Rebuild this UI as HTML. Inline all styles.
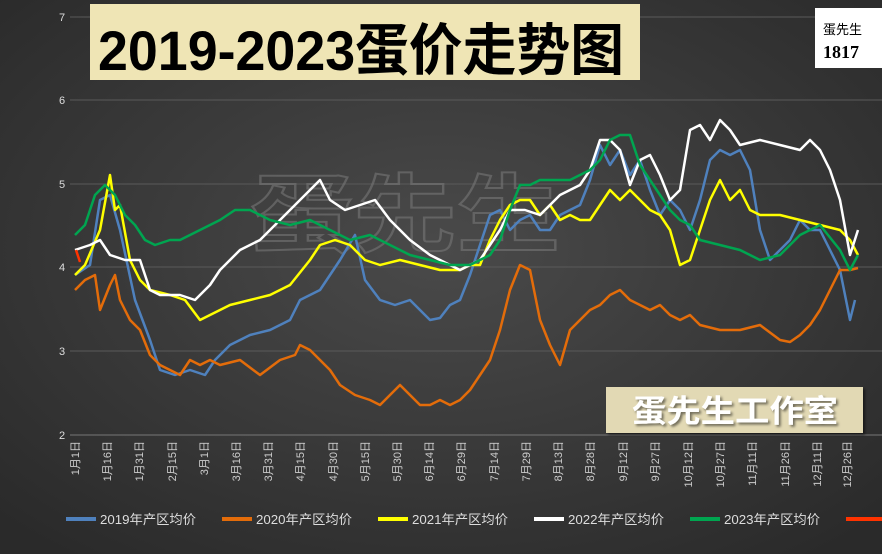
<!DOCTYPE html>
<html><head><meta charset="utf-8"><style>
html,body{margin:0;padding:0;}
body{width:882px;height:554px;overflow:hidden;background:#3b3b3b;font-family:"Liberation Sans","Noto Sans CJK SC",sans-serif;}
</style></head><body>
<svg width="882" height="554" viewBox="0 0 882 554" xmlns="http://www.w3.org/2000/svg" style="display:block">
<defs>
<radialGradient id="bg" cx="50%" cy="45%" r="70%">
<stop offset="0" stop-color="#4a4a4a"/><stop offset="1" stop-color="#2a2a2a"/>
</radialGradient>
<filter id="sh"><feDropShadow dx="2" dy="2" stdDeviation="1.2" flood-color="#000" flood-opacity="0.5"/></filter>
</defs>
<rect width="882" height="554" fill="url(#bg)"/>
<g stroke="#5a5a5a" stroke-width="1">
<line x1="70" y1="17" x2="882" y2="17"/><line x1="70" y1="100" x2="882" y2="100"/>
<line x1="70" y1="184" x2="882" y2="184"/><line x1="70" y1="267" x2="882" y2="267"/>
<line x1="70" y1="351" x2="882" y2="351"/><line x1="70" y1="435" x2="882" y2="435" stroke="#777"/>
</g>
<g fill="#ddd" font-size="11">
<text x="59" y="21">7</text><text x="59" y="104">6</text><text x="59" y="188">5</text>
<text x="59" y="271">4</text><text x="59" y="355">3</text><text x="59" y="439">2</text>
</g>
<text x="250" y="245" font-size="85" font-weight="bold" fill="none" stroke="#777" stroke-width="2" opacity="0.6" textLength="310" lengthAdjust="spacingAndGlyphs" font-family="Noto Sans CJK SC,sans-serif">蛋先生</text>
<rect x="90" y="4" width="550" height="76" fill="#efe5b5"/>
<text x="98" y="70" font-size="56" font-weight="bold" fill="#000" textLength="526" lengthAdjust="spacingAndGlyphs" font-family="Liberation Sans Narrow,Liberation Sans,Noto Sans CJK SC,sans-serif">2019-2023蛋价走势图</text>
<rect x="815" y="8" width="70" height="60" fill="#fff"/>
<text x="823" y="34" font-size="13" fill="#000" font-family="Noto Sans CJK SC,sans-serif">蛋先生</text>
<text x="823" y="58" font-size="18" font-weight="bold" fill="#000" font-family="Liberation Serif,serif">1817</text>
<g fill="none" stroke-width="2.5" stroke-linejoin="round">
<polyline stroke="#4f81bd" points="75,275 90,265 100,200 110,195 120,230 135,300 150,340 160,370 175,375 190,370 205,375 215,360 230,345 250,335 270,330 290,320 300,300 320,290 340,260 355,235 365,280 380,300 395,305 410,300 420,310 430,320 440,318 450,305 460,300 470,275 480,245 490,215 500,210 510,230 520,220 530,215 540,230 550,230 560,215 570,210 580,205 590,180 600,145 610,165 620,150 630,175 640,160 650,190 660,215 670,200 680,210 690,230 700,200 710,160 720,150 730,155 740,150 750,170 760,230 770,260 780,250 790,240 800,220 810,230 820,230 830,250 840,270 850,320 855,300"/>
<polyline stroke="#e36c0a" points="75,290 85,280 95,275 100,310 110,285 115,275 120,300 130,320 140,330 150,355 160,365 170,370 180,375 190,360 200,365 210,360 220,365 240,360 260,375 280,360 295,355 300,345 310,350 320,360 330,370 340,385 355,395 370,400 380,405 390,395 400,385 410,395 420,405 430,405 440,400 450,405 460,400 470,390 480,375 490,360 500,330 510,290 520,265 530,270 540,320 550,345 560,365 570,330 580,320 590,310 600,305 610,295 620,290 630,300 640,305 650,310 660,305 670,315 680,320 690,315 700,325 720,330 740,330 760,325 780,340 790,342 800,335 810,325 820,310 830,290 840,270 850,270 858,268"/>
<polyline stroke="#ffff00" points="75,275 85,265 100,230 110,175 115,210 120,205 130,260 140,280 150,290 170,295 185,300 200,320 210,315 230,305 250,300 270,295 290,285 310,260 320,245 335,240 350,245 365,260 380,265 400,260 420,265 440,270 460,270 470,265 480,265 490,240 500,220 510,205 520,200 530,200 540,215 550,205 560,220 570,215 580,220 590,220 600,205 610,190 620,200 630,190 640,200 650,210 660,215 670,230 680,265 690,260 700,230 710,200 720,180 730,200 740,190 750,210 760,215 780,215 800,220 820,225 840,230 850,240 858,255"/>
<polyline stroke="#ffffff" points="75,250 90,245 100,240 110,255 125,260 140,260 150,290 160,295 180,295 195,300 210,285 220,270 240,250 260,240 280,220 300,200 310,190 320,180 330,200 345,210 360,205 375,200 390,220 410,240 430,255 450,265 460,270 480,260 500,230 510,210 525,210 540,215 560,195 580,185 590,170 600,140 610,140 620,150 630,185 640,160 650,155 660,175 670,200 680,190 690,130 700,125 710,140 720,120 730,130 740,145 760,140 780,145 800,150 810,140 820,150 830,170 840,200 850,255 858,230"/>
<polyline stroke="#00a550" points="75,235 85,225 95,195 105,185 115,195 125,215 135,225 145,240 155,245 170,240 180,240 200,230 220,220 235,210 250,210 270,220 290,225 310,220 330,230 350,240 370,235 390,245 410,255 430,260 450,265 470,265 490,255 500,240 510,210 520,185 530,185 540,180 550,180 570,180 590,170 600,160 610,140 620,135 630,135 640,165 650,180 660,195 670,210 680,220 690,225 700,240 720,245 740,250 760,260 780,255 800,235 820,225 840,250 850,270 858,255"/>
<polyline stroke="#ff3300" points="76,250 78,256 80,262"/>
</g>
<rect x="606" y="387" width="257" height="46" fill="#e2d9b4" filter="url(#sh)"/>
<text x="632" y="422" font-size="31" font-weight="bold" fill="#fff" filter="url(#sh)" textLength="206" lengthAdjust="spacingAndGlyphs" font-family="Noto Sans CJK SC,sans-serif">蛋先生工作室</text>
<g fill="#ccc" font-size="11" text-anchor="end">
<text transform="translate(79,441) rotate(-90)">1月1日</text>
<text transform="translate(111,441) rotate(-90)">1月16日</text>
<text transform="translate(143,441) rotate(-90)">1月31日</text>
<text transform="translate(176,441) rotate(-90)">2月15日</text>
<text transform="translate(208,441) rotate(-90)">3月1日</text>
<text transform="translate(240,441) rotate(-90)">3月16日</text>
<text transform="translate(272,441) rotate(-90)">3月31日</text>
<text transform="translate(304,441) rotate(-90)">4月15日</text>
<text transform="translate(337,441) rotate(-90)">4月30日</text>
<text transform="translate(369,441) rotate(-90)">5月15日</text>
<text transform="translate(401,441) rotate(-90)">5月30日</text>
<text transform="translate(433,441) rotate(-90)">6月14日</text>
<text transform="translate(465,441) rotate(-90)">6月29日</text>
<text transform="translate(498,441) rotate(-90)">7月14日</text>
<text transform="translate(530,441) rotate(-90)">7月29日</text>
<text transform="translate(562,441) rotate(-90)">8月13日</text>
<text transform="translate(594,441) rotate(-90)">8月28日</text>
<text transform="translate(627,441) rotate(-90)">9月12日</text>
<text transform="translate(659,441) rotate(-90)">9月27日</text>
<text transform="translate(692,441) rotate(-90)">10月12日</text>
<text transform="translate(724,441) rotate(-90)">10月27日</text>
<text transform="translate(756,441) rotate(-90)">11月11日</text>
<text transform="translate(789,441) rotate(-90)">11月26日</text>
<text transform="translate(821,441) rotate(-90)">12月11日</text>
<text transform="translate(851,441) rotate(-90)">12月26日</text>
</g>
<g stroke-width="4">
<line x1="66" y1="519" x2="96" y2="519" stroke="#4f81bd"/>
<line x1="222" y1="519" x2="252" y2="519" stroke="#e36c0a"/>
<line x1="378" y1="519" x2="408" y2="519" stroke="#ffff00"/>
<line x1="534" y1="519" x2="564" y2="519" stroke="#ffffff"/>
<line x1="690" y1="519" x2="720" y2="519" stroke="#00a550"/>
<line x1="846" y1="519" x2="882" y2="519" stroke="#ff3300"/>
</g>
<g fill="#ddd" font-size="13">
<text x="100" y="524" textLength="96" lengthAdjust="spacingAndGlyphs">2019年产区均价</text>
<text x="256" y="524" textLength="96" lengthAdjust="spacingAndGlyphs">2020年产区均价</text>
<text x="412" y="524" textLength="96" lengthAdjust="spacingAndGlyphs">2021年产区均价</text>
<text x="568" y="524" textLength="96" lengthAdjust="spacingAndGlyphs">2022年产区均价</text>
<text x="724" y="524" textLength="96" lengthAdjust="spacingAndGlyphs">2023年产区均价</text>
</g>
</svg>
</body></html>
